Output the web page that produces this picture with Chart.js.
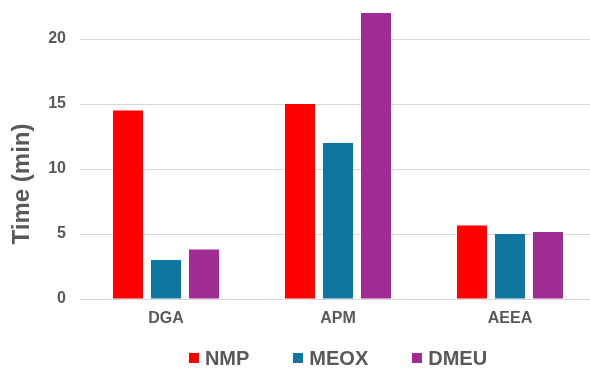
<!DOCTYPE html>
<html>
<head>
<meta charset="utf-8">
<script src="https://cdn.jsdelivr.net/npm/chart.js@4.4.0/dist/chart.umd.min.js"></script>
<style>
html,body{margin:0;padding:0;background:#fff;overflow:hidden;width:590px;height:368px;}
#wrap{position:absolute;left:0;top:0;width:676px;height:368px;}
</style>
</head>
<body>
<div id="wrap"><canvas id="c" width="676" height="368"></canvas></div>
<script>
const categories = ['DGA', 'APM', 'AEEA'];
const seriesNames = ['NMP', 'MEOX', 'DMEU'];
const nmp = [14.5, 15.0, 5.65];
const meox = [3.0, 12.0, 5.0];
const dmeu = [3.8, 22.0, 5.15];
const yTicks = [0, 5, 10, 15, 20];
const yMax = 22;
const yTitle = 'Time (min)';
const colors = ['#FF0000', '#0E76A0', '#A02B93'];
const textColor = '#595959';
const FONT = 'Arial, "Liberation Sans", sans-serif';

const yTitlePlugin = {
  id: 'yTitle',
  afterDraw(chart) {
    const ctx = chart.ctx;
    ctx.save();
    ctx.translate(22, 184);
    ctx.rotate(-Math.PI / 2);
    ctx.font = 'bold 24px ' + FONT;
    ctx.fillStyle = textColor;
    ctx.textAlign = 'center';
    ctx.textBaseline = 'middle';
    ctx.fillText(yTitle, 0, 0);
    ctx.restore();
  }
};

const legendPlugin = {
  id: 'customLegend',
  afterDraw(chart) {
    const ctx = chart.ctx;
    ctx.save();
    ctx.font = 'bold 20px ' + FONT;
    const box = 10, gapBox = 6, gapItem = 44;
    const items = chart.data.datasets.map(d => ({text: d.label, color: d.backgroundColor, w: ctx.measureText(d.label).width}));
    let total = 0;
    items.forEach((it, i) => { total += box + gapBox + it.w + (i < items.length - 1 ? gapItem : 0); });
    const ca = chart.chartArea;
    let x = (ca.left + ca.right) / 2 - total / 2;
    const cy = 358;
    items.forEach(it => {
      ctx.fillStyle = it.color;
      ctx.fillRect(Math.round(x), cy - 5, box, box);
      ctx.fillStyle = textColor;
      ctx.textAlign = 'left';
      ctx.textBaseline = 'middle';
      ctx.fillText(it.text, x + box + gapBox, cy + 1);
      x += box + gapBox + it.w + gapItem;
    });
    ctx.restore();
  }
};

new Chart(document.getElementById('c'), {
  type: 'bar',
  data: {
    labels: categories,
    datasets: [
      {label: seriesNames[0], data: nmp, backgroundColor: colors[0]},
      {label: seriesNames[1], data: meox, backgroundColor: colors[1]},
      {label: seriesNames[2], data: dmeu, backgroundColor: colors[2]}
    ]
  },
  options: {
    responsive: false,
    animation: false,
    devicePixelRatio: 1,
    layout: {padding: {top: 13, right: 80, bottom: 39, left: 0}},
    datasets: {bar: {categoryPercentage: 0.663, barPercentage: 0.79, borderWidth: 0}},
    plugins: {
      legend: {display: false},
      tooltip: {enabled: false},
      title: {display: false}
    },
    scales: {
      x: {
        grid: {display: false, drawTicks: false},
        border: {display: false},
        ticks: {color: textColor, font: {family: FONT, size: 16, weight: 'bold'}, padding: 10, maxRotation: 0},
        afterFit(s) { s.height = 30; s.paddingLeft = 0; s.paddingRight = 0; }
      },
      y: {
        min: 0,
        max: yMax,
        grid: {color: '#D9D9D9', lineWidth: 1, drawTicks: false},
        border: {display: false},
        ticks: {color: textColor, font: {family: FONT, size: 16, weight: 'bold'}, padding: 14, stepSize: 5},
        afterBuildTicks(s) { s.ticks = yTicks.map(v => ({value: v})); },
        afterFit(s) { s.width = 80; s.paddingTop = 0; s.paddingBottom = 0; }
      }
    }
  },
  plugins: [yTitlePlugin, legendPlugin]
});
</script>
</body>
</html>
